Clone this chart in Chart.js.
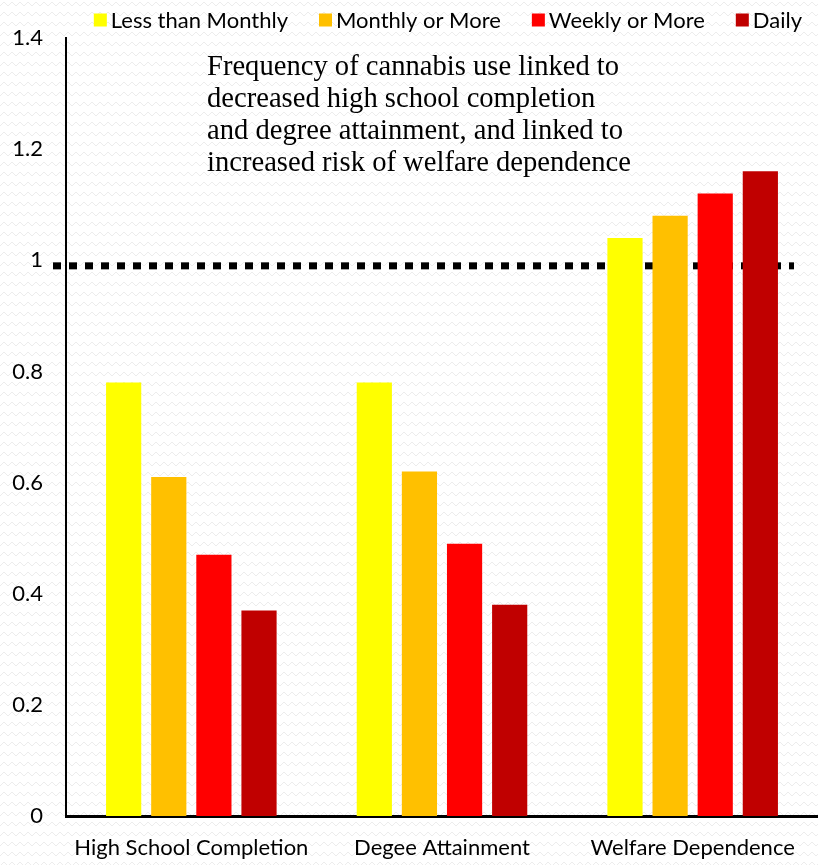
<!DOCTYPE html>
<html>
<head>
<meta charset="utf-8">
<script src="https://cdn.jsdelivr.net/npm/chart.js@4.4.1/dist/chart.umd.min.js"></script>
<style>
  html, body { margin: 0; padding: 0; background: #fff; }
  #wrap { width: 818px; height: 865px; position: relative; }
</style>
</head>
<body>
<div id="wrap"><canvas id="chart"></canvas></div>
<script>
// chart data
const categories = ['High School Completion', 'Degee Attainment', 'Welfare Dependence'];
const lessThanMonthly = [0.78, 0.78, 1.04];
const monthlyOrMore = [0.61, 0.62, 1.08];
const weeklyOrMore = [0.47, 0.49, 1.12];
const daily = [0.37, 0.38, 1.16];
const seriesNames = ['Less than Monthly', 'Monthly or More', 'Weekly or More', 'Daily'];
const seriesColors = ['#FFFF00', '#FFC000', '#FF0000', '#C00000'];
const referenceLevel = 0.99;
const titleLines = [
  'Frequency of cannabis use linked to',
  'decreased high school completion',
  'and degree attainment, and linked to',
  'increased risk of welfare dependence'
];

const labelFont = { family: 'Lato, "Open Sans", sans-serif', size: 22 };

// faint zigzag background, like the slide texture
const backgroundPlugin = {
  id: 'zigzagBackground',
  beforeDraw(chart) {
    const ctx = chart.ctx;
    const tile = document.createElement('canvas');
    tile.width = 8; tile.height = 10;
    const t = tile.getContext('2d');
    t.fillStyle = '#ffffff';
    t.fillRect(0, 0, 8, 10);
    t.strokeStyle = '#ececec';
    t.lineWidth = 1;
    t.beginPath();
    t.moveTo(0, 6); t.lineTo(4, 2); t.lineTo(8, 6);
    t.stroke();
    ctx.save();
    ctx.fillStyle = ctx.createPattern(tile, 'repeat');
    ctx.fillRect(0, 0, chart.width, chart.height);
    ctx.restore();
  }
};

// dotted reference line at ~1, drawn under the bars
const referenceLinePlugin = {
  id: 'referenceLine',
  beforeDatasetsDraw(chart) {
    const ctx = chart.ctx;
    const area = chart.chartArea;
    const y = chart.scales.y.getPixelForValue(referenceLevel);
    ctx.save();
    ctx.strokeStyle = '#000';
    ctx.lineWidth = 7;
    ctx.setLineDash([8, 8]);
    ctx.beginPath();
    ctx.moveTo(area.left - 13, y);
    ctx.lineTo(area.right - 24, y);
    ctx.stroke();
    ctx.restore();
  }
};

// annotation text block inside the plot
const annotationPlugin = {
  id: 'annotationText',
  afterDatasetsDraw(chart) {
    const ctx = chart.ctx;
    const area = chart.chartArea;
    ctx.save();
    ctx.fillStyle = '#000';
    ctx.font = '28.6px "Liberation Serif", serif';
    ctx.textBaseline = 'alphabetic';
    titleLines.forEach((line, i) => {
      ctx.fillText(line, area.left + 141, area.top + 37 + i * 32);
    });
    ctx.restore();
  }
};

// legend along the top, right aligned, small gap between swatch and text
const legendPlugin = {
  id: 'topLegend',
  afterDraw(chart) {
    const ctx = chart.ctx;
    const box = 13, textGap = 4, itemGap = 31, rightEdge = 802, midY = 20;
    ctx.save();
    ctx.font = labelFont.size + 'px ' + labelFont.family;
    ctx.textBaseline = 'middle';
    const items = chart.data.datasets.map(ds => ({
      text: ds.label, color: ds.backgroundColor, w: ctx.measureText(ds.label).width
    }));
    let total = items.reduce((s, it) => s + box + textGap + it.w, 0) + itemGap * (items.length - 1);
    let x = rightEdge - total;
    items.forEach(it => {
      ctx.fillStyle = it.color;
      ctx.fillRect(x, midY - box / 2, box, box);
      ctx.fillStyle = '#000';
      ctx.fillText(it.text, x + box + textGap, midY + 1);
      x += box + textGap + it.w + itemGap;
    });
    ctx.restore();
  }
};

new Chart(document.getElementById('chart'), {
  type: 'bar',
  data: {
    labels: categories,
    datasets: [lessThanMonthly, monthlyOrMore, weeklyOrMore, daily].map((values, i) => ({
      label: seriesNames[i],
      data: values,
      backgroundColor: seriesColors[i],
      borderWidth: 0,
      categoryPercentage: 0.72,
      barPercentage: 0.78
    }))
  },
  options: {
    responsive: true,
    maintainAspectRatio: false,
    animation: false,
    layout: { padding: { top: 38, right: 0, bottom: 0, left: 0 } },
    plugins: {
      legend: { display: false },
      tooltip: { enabled: false }
    },
    scales: {
      x: {
        grid: { display: false },
        border: { display: true, color: '#000', width: 3 },
        ticks: { font: labelFont, color: '#000', padding: 11 },
        afterFit(scale) { scale.height = 49; }
      },
      y: {
        min: 0,
        max: 1.4,
        grid: { display: false },
        border: { display: true, color: '#000', width: 2 },
        ticks: {
          stepSize: 0.2, font: labelFont, color: '#000', padding: 15,
          callback: v => String(Math.round(v * 10) / 10)
        },
        afterFit(scale) { scale.width = 66; }
      }
    }
  },
  plugins: [backgroundPlugin, referenceLinePlugin, annotationPlugin, legendPlugin]
});
</script>
</body>
</html>
